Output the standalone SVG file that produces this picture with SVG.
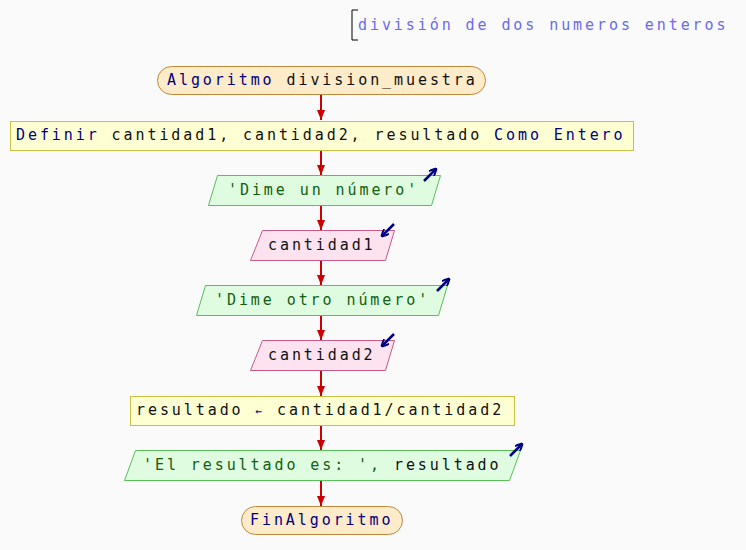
<svg xmlns="http://www.w3.org/2000/svg" width="746" height="550" viewBox="0 0 746 550">
<style>
text{font-family:"DejaVu Sans Mono","Liberation Mono",monospace;font-size:15px;letter-spacing:2.92px}
.term{fill:#fdebc9;stroke:#c0883a;stroke-width:1}
.proc{fill:#ffffd4;stroke:#c8c040;stroke-width:1}
.out{fill:#e0fce0;stroke:#58c058;stroke-width:1}
.inp{fill:#fde2ef;stroke:#c85a88;stroke-width:1}
.kw{fill:#000080}
.tx{fill:#101010}
.str{fill:#106010}
.conn{stroke:#cc0000;stroke-width:2;fill:none}
.io{stroke:#000080;stroke-width:2.5;fill:none}
</style>
<defs>
<marker id="ah" viewBox="0 0 10 8" refX="10" refY="4" markerWidth="10" markerHeight="8" markerUnits="userSpaceOnUse" orient="auto">
<path d="M0,0 L10,4 L0,8 Z" fill="#cc0000"/>
</marker>
<marker id="nh" viewBox="0 0 8 8" refX="7" refY="4" markerWidth="8" markerHeight="8" markerUnits="userSpaceOnUse" orient="auto">
<path d="M0,0 L8,4 L0,8" fill="none" stroke="#000080" stroke-width="2"/>
</marker>
</defs>
<rect width="746" height="550" fill="#fafafa"/>
<g id="comment">
<path d="M358,10 H352 V40 H358" fill="none" stroke="#000" stroke-width="1"/>
<text x="358" y="30" fill="#6a6af0">división de dos numeros enteros</text>
</g>
<g id="connectors">
<line class="conn" x1="321" y1="95" x2="321" y2="120" marker-end="url(#ah)"/>
<line class="conn" x1="321" y1="150" x2="321" y2="175" marker-end="url(#ah)"/>
<line class="conn" x1="321" y1="205" x2="321" y2="230" marker-end="url(#ah)"/>
<line class="conn" x1="321" y1="260" x2="321" y2="285" marker-end="url(#ah)"/>
<line class="conn" x1="321" y1="315" x2="321" y2="340" marker-end="url(#ah)"/>
<line class="conn" x1="321" y1="370" x2="321" y2="396" marker-end="url(#ah)"/>
<line class="conn" x1="321" y1="425" x2="321" y2="450" marker-end="url(#ah)"/>
<line class="conn" x1="321" y1="480" x2="321" y2="506" marker-end="url(#ah)"/>
</g>
<g id="start">
<rect class="term" x="157.5" y="66.5" width="328" height="28" rx="14"/>
<text x="167" y="85"><tspan class="kw">Algoritmo</tspan><tspan class="tx"> division_muestra</tspan></text>
</g>
<g id="define">
<rect class="proc" x="10.5" y="121.5" width="623" height="29"/>
<text x="16" y="140"><tspan class="kw">Definir</tspan><tspan class="tx"> cantidad1, cantidad2, resultado </tspan><tspan class="kw">Como Entero</tspan></text>
</g>
<g id="out1">
<polygon class="out" points="217.5,175.5 440.5,175.5 431.5,205.5 208.5,205.5"/>
<text class="str" x="228" y="195">'Dime un número'</text>
<line class="io" x1="424" y1="181" x2="436" y2="169" marker-end="url(#nh)"/>
</g>
<g id="in1">
<polygon class="inp" points="262.5,230.5 394.5,230.5 385.5,260.5 250.5,260.5"/>
<text class="tx" x="268" y="250">cantidad1</text>
<line class="io" x1="394" y1="224" x2="382" y2="236" marker-end="url(#nh)"/>
</g>
<g id="out2">
<polygon class="out" points="205.5,285.5 447.5,285.5 438.5,315.5 196.5,315.5"/>
<text class="str" x="215" y="305">'Dime otro número'</text>
<line class="io" x1="437" y1="291" x2="449" y2="279" marker-end="url(#nh)"/>
</g>
<g id="in2">
<polygon class="inp" points="262.5,340.5 394.5,340.5 385.5,370.5 250.5,370.5"/>
<text class="tx" x="268" y="360">cantidad2</text>
<line class="io" x1="394" y1="334" x2="382" y2="346" marker-end="url(#nh)"/>
</g>
<g id="assign">
<rect class="proc" x="130.5" y="396.5" width="384" height="29"/>
<text x="136" y="415"><tspan class="tx">resultado </tspan><tspan class="kw" font-size="11">←</tspan><tspan class="tx"> cantidad1/cantidad2</tspan></text>
</g>
<g id="out3">
<polygon class="out" points="135.5,450.5 520.5,450.5 509.5,480.5 124.5,480.5"/>
<text class="str" x="143" y="470">'El resultado es: ', <tspan class="tx">resultado</tspan></text>
<line class="io" x1="510" y1="456" x2="522" y2="444" marker-end="url(#nh)"/>
</g>
<g id="end">
<rect class="term" x="241.5" y="506.5" width="161" height="28" rx="14"/>
<text class="kw" x="250" y="525">FinAlgoritmo</text>
</g>
</svg>
